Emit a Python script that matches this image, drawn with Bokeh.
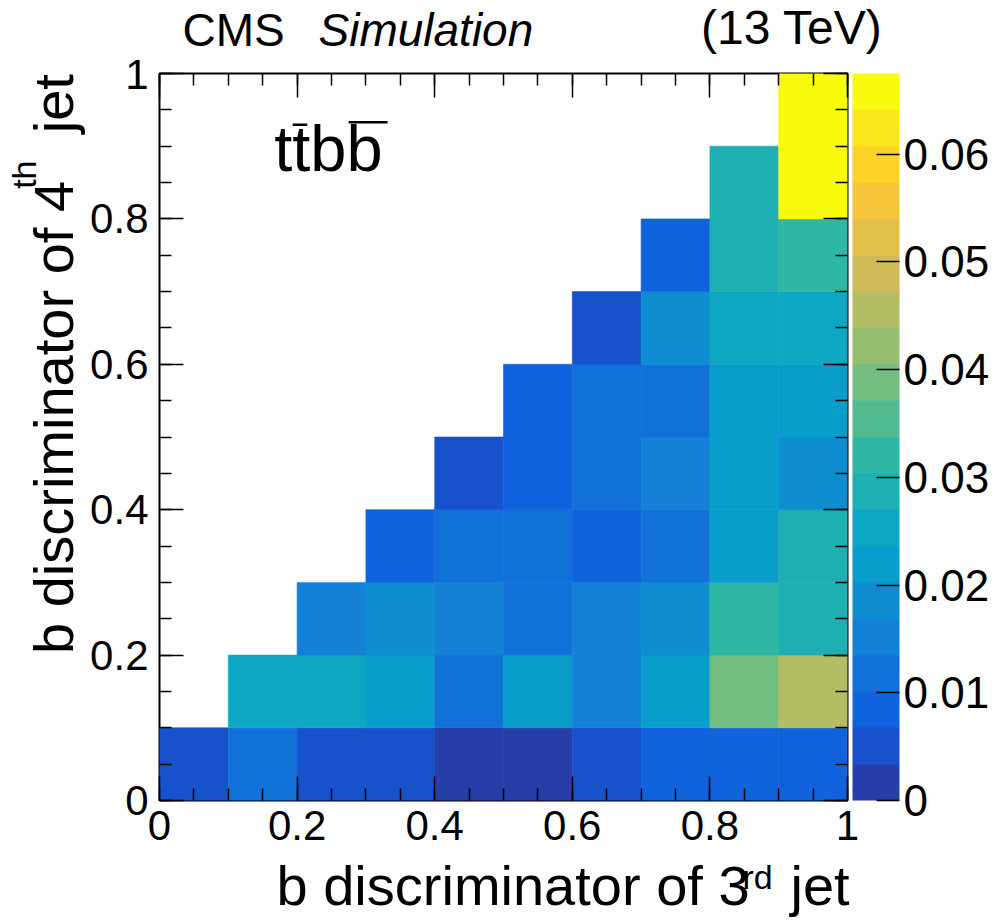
import numpy as np
from bokeh.plotting import figure
from bokeh.layouts import column, row
from bokeh.models import (ColumnDataSource, LinearColorMapper, ColorBar, FixedTicker,
                          LinearAxis, Label, Range1d)
from bokeh.transform import transform
from bokeh.embed import file_html
from bokeh.resources import INLINE

# ---- data: 10x10 bins, only bins with 4th-jet discriminator <= 3rd-jet discriminator are filled
x_edges = [0.0, 0.1, 0.2, 0.3, 0.4, 0.5, 0.6, 0.7, 0.8, 0.9, 1.0]
y_edges = [0.0, 0.1, 0.2, 0.3, 0.4, 0.5, 0.6, 0.7, 0.8, 0.9, 1.0]

# each row starts at the diagonal bin (x bin index == y bin index)
row_y00 = [0.0052, 0.0118, 0.0052, 0.0052, 0.0020, 0.0020, 0.0052, 0.0085, 0.0085, 0.0085]
row_y01 = [0.0253, 0.0253, 0.0220, 0.0118, 0.0220, 0.0152, 0.0220, 0.0388, 0.0456]
row_y02 = [0.0152, 0.0186, 0.0152, 0.0118, 0.0152, 0.0186, 0.0321, 0.0287]
row_y03 = [0.0085, 0.0118, 0.0118, 0.0085, 0.0105, 0.0220, 0.0287]
row_y04 = [0.0052, 0.0085, 0.0118, 0.0152, 0.0220, 0.0186]
row_y05 = [0.0085, 0.0118, 0.0118, 0.0220, 0.0220]
row_y06 = [0.0052, 0.0186, 0.0253, 0.0253]
row_y07 = [0.0085, 0.0287, 0.0321]
row_y08 = [0.0287, 0.0655]
row_y09 = [0.0675]
rows = [row_y00, row_y01, row_y02, row_y03, row_y04,
        row_y05, row_y06, row_y07, row_y08, row_y09]

z_min, z_max = 0.0, 0.0675
axis_ticks = [0, 0.2, 0.4, 0.6, 0.8, 1]
axis_labels = ["0", "0.2", "0.4", "0.6", "0.8", "1"]
z_ticks = [0, 0.01, 0.02, 0.03, 0.04, 0.05, 0.06]
z_labels = ["0", "0.01", "0.02", "0.03", "0.04", "0.05", "0.06"]

left, right, bottom, top, z = [], [], [], [], []
for j, row_vals in enumerate(rows):
    for k, val in enumerate(row_vals):
        i = j + k
        left.append(x_edges[i]); right.append(x_edges[i + 1])
        bottom.append(y_edges[j]); top.append(y_edges[j + 1])
        z.append(val)
src = ColumnDataSource(dict(left=left, right=right, bottom=bottom, top=top, z=z))

# ---- ROOT "bird" palette sampled at 20 contour levels
stops = [0.0, 0.125, 0.25, 0.375, 0.5, 0.625, 0.75, 0.875, 1.0]
red = [0.2082, 0.0592, 0.0780, 0.0232, 0.1802, 0.5301, 0.8186, 0.9956, 0.9764]
green = [0.1664, 0.3599, 0.5041, 0.6419, 0.7178, 0.7492, 0.7328, 0.7862, 0.9832]
blue = [0.5293, 0.8684, 0.8385, 0.7914, 0.6425, 0.4662, 0.3499, 0.1968, 0.0539]
n_levels = 20
palette = []
for lev in range(n_levels):
    t = min(int((lev + 0.99) * 255 / n_levels) / 254.0, 1.0)
    r, g, b = (int(round(255 * np.interp(t, stops, ch))) for ch in (red, green, blue))
    palette.append("#%02x%02x%02x" % (r, g, b))

mapper = LinearColorMapper(palette=palette, low=z_min, high=z_max)

FONT = "Liberation Sans"
W, H = 993, 924
# page geometry (pixels)
FL, FR, FT, FB = 157, 847, 73, 800
HEAD_H = 59            # header strip height
YT_W = 87              # strip holding the rotated y title
MAIN_TOP = FT - HEAD_H  # main figure border above the frame
MAIN_BOT = 58          # main figure border below the frame
MAIN_H = MAIN_TOP + (FB - FT) + MAIN_BOT
XT_H = H - HEAD_H - MAIN_H
MID = 0.42             # baseline offset of a "middle"-anchored label, in em


def text_strip(w, h, x_range, y_range):
    """A borderless figure whose data coordinates are page pixels."""
    f = figure(width=w, height=h, x_range=Range1d(*x_range), y_range=Range1d(*y_range),
               output_backend="svg", toolbar_location=None, min_border=0,
               x_axis_location=None, y_axis_location=None)
    f.grid.visible = False
    f.outline_line_color = None
    f.background_fill_color = "white"
    f.border_fill_color = "white"
    return f


def put(fig, text, x, base_y, size, **kw):
    """Horizontal text with its alphabetic baseline at base_y."""
    fig.add_layout(Label(x=x, y=base_y - MID * size, text=text, text_font=FONT,
                         text_font_size="%dpx" % size, text_color="black",
                         text_baseline="middle", **kw))


def put_vertical(fig, text, base_x, y_start, length_em, size):
    """Text reading bottom to top, baseline at base_x, starting at y_start."""
    yc = y_start - 0.5 * length_em * size
    fig.add_layout(Label(x=base_x - MID * size, y=yc, text=text, text_font=FONT,
                         text_font_size="%dpx" % size, text_color="black",
                         text_baseline="middle", text_align="center", angle=np.pi / 2))


# ---- main figure
p = figure(width=W - YT_W, height=MAIN_H, x_range=(0, 1), y_range=(0, 1),
           output_backend="svg", toolbar_location=None,
           min_border_left=FL - YT_W, min_border_right=W - FR,
           min_border_top=MAIN_TOP, min_border_bottom=MAIN_BOT,
           x_axis_location=None, y_axis_location=None)
p.grid.visible = False
p.outline_line_color = "black"
p.outline_line_width = 2
p.background_fill_color = "white"
p.border_fill_color = "white"

p.quad(left="left", right="right", bottom="bottom", top="top", source=src,
       fill_color=transform("z", mapper), line_color=transform("z", mapper),
       line_width=0.6)

minor = [round(0.05 * k, 2) for k in range(21)]


def make_axis(show_labels):
    ax = LinearAxis(ticker=FixedTicker(ticks=axis_ticks, minor_ticks=minor))
    ax.major_label_overrides = {t: l for t, l in zip(axis_ticks, axis_labels)}
    ax.axis_line_color = None
    ax.major_tick_in = 24
    ax.major_tick_out = 0
    ax.minor_tick_in = 12
    ax.minor_tick_out = 0
    ax.major_tick_line_color = "black"
    ax.minor_tick_line_color = "black"
    ax.major_tick_line_width = 1.5
    ax.minor_tick_line_width = 1.5
    ax.major_label_text_font = FONT
    ax.major_label_text_color = "black"
    if show_labels:
        ax.major_label_text_font_size = "42px"
    else:
        ax.major_label_text_font_size = "0px"
        ax.major_label_standoff = 0
    return ax


xb = make_axis(True)
xb.major_label_standoff = 10
p.add_layout(xb, "below")
yl = make_axis(True)
yl.major_label_standoff = 11
p.add_layout(yl, "left")
p.add_layout(make_axis(False), "above")
p.add_layout(make_axis(False), "right")

cb = ColorBar(color_mapper=mapper, width=47, height=FB - FT, padding=0, margin=0,
              location=(5, 0),
              ticker=FixedTicker(ticks=z_ticks),
              major_label_overrides={t: l for t, l in zip(z_ticks, z_labels)},
              major_label_text_font=FONT, major_label_text_font_size="44px",
              major_label_text_color="black",
              major_tick_in=23, major_tick_out=0, major_tick_line_color="black",
              major_tick_line_width=1.5, minor_tick_line_color=None,
              label_standoff=4, bar_line_color=None, border_line_color=None,
              background_fill_color=None)
p.add_layout(cb, "right")


def xd(px):
    return (px - FL) / (FR - FL)


def yd(py):
    return (FB - py) / (FB - FT)


# process label inside the frame
proc_x, proc_y, proc_fs = 272, 175, 65
p.add_layout(Label(x=xd(proc_x), y=yd(proc_y - MID * proc_fs), text="ttbb",
                   text_font=FONT, text_font_size="%dpx" % proc_fs, text_color="black",
                   text_baseline="middle"))
bar_t = (proc_x + 0.285 * proc_fs, proc_x + 0.51 * proc_fs, proc_y - 0.78 * proc_fs)
bar_b = (proc_x + 1.15 * proc_fs, proc_x + 1.75 * proc_fs, proc_y - 0.82 * proc_fs)
for x0, x1, yy in (bar_t, bar_b):
    p.segment(x0=[xd(x0)], x1=[xd(x1)], y0=[yd(yy)], y1=[yd(yy)],
              line_color="black", line_width=2.5)

# ---- header strip
head = text_strip(W, HEAD_H, (0, W), (HEAD_H, 0))
put(head, "CMS", 182, 49, 46)
put(head, "Simulation", 318, 49, 46, text_font_style="italic")
put(head, "(13 TeV)", 882, 47, 48, text_align="right")

# ---- y title strip (its frame lines up with the main frame)
TFS, SFS = 56, 34
ytit = text_strip(YT_W, MAIN_H, (0, YT_W), (FB, FT))
put_vertical(ytit, "b discriminator of 4", 77, 648, 8.25, TFS)
put_vertical(ytit, "th", 38, 188, 0.815, SFS)
put_vertical(ytit, "jet", 77, 132, 1.03, TFS)

# ---- x title strip
xtit = text_strip(W, XT_H, (0, W), (H, HEAD_H + MAIN_H))
put(xtit, "b discriminator of 3", 276, 909, TFS)
put(xtit, "rd", 742, 891, SFS)
put(xtit, "jet", 790, 909, TFS)

layout = column(head, row(ytit, p, spacing=0), xtit, spacing=0)
open("out.html", "w").write(file_html(layout, INLINE))
